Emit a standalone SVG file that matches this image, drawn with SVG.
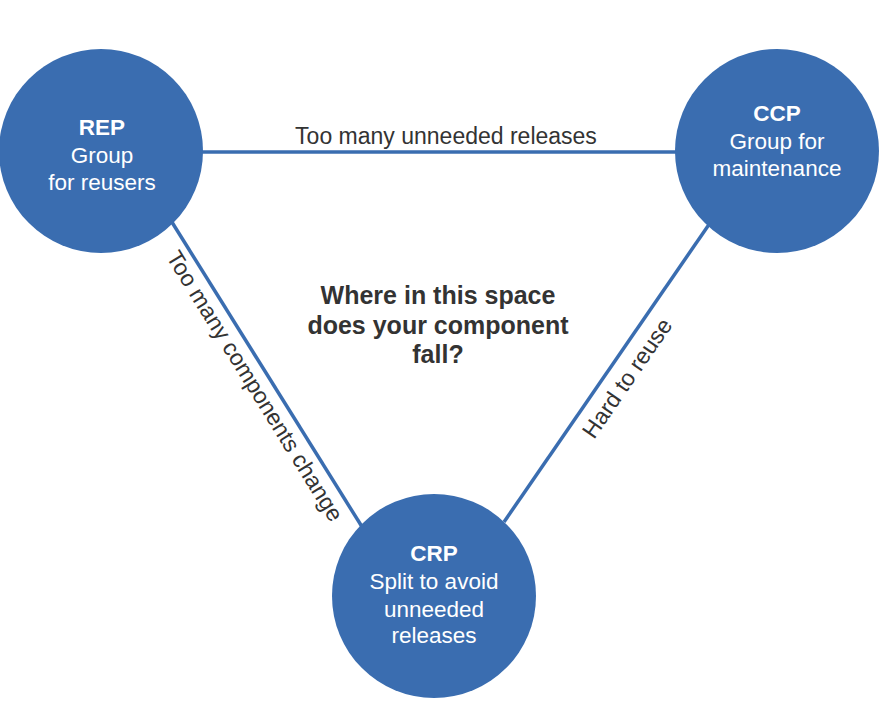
<svg xmlns="http://www.w3.org/2000/svg" width="880" height="713" viewBox="0 0 880 713">
<style>
.node{fill:#3a6db0}
.nt{fill:#ffffff;font-family:"Liberation Sans",Arial,sans-serif;font-size:22.5px;text-anchor:middle}
.b{font-weight:bold}
.conn{stroke:#3a6db0;stroke-width:3.5;fill:none}
.lbl{fill:#333333;font-family:"Liberation Sans",Arial,sans-serif;font-size:23px;text-anchor:middle}
.q{fill:#333333;font-family:"Liberation Sans",Arial,sans-serif;font-size:25px;font-weight:bold;text-anchor:middle}
</style>
<rect width="880" height="713" fill="#ffffff"/>
<g id="connectors">
<line class="conn" x1="200" y1="152" x2="678" y2="152"/>
<line class="conn" x1="170" y1="219" x2="364" y2="530"/>
<line class="conn" x1="710" y1="223" x2="504" y2="522"/>
<text class="lbl" x="446" y="144">Too many unneeded releases</text>
<text class="lbl" transform="translate(255,386) rotate(58.2)" x="0" y="8">Too many components change</text>
<text class="lbl" transform="translate(627,378) rotate(-55.4)" x="0" y="8">Hard to reuse</text>
</g>
<g id="rep">
<circle class="node" cx="101" cy="151" r="102"/>
<text class="nt b" x="102" y="135">REP</text>
<text class="nt" x="102" y="163">Group</text>
<text class="nt" x="102" y="190">for reusers</text>
</g>
<g id="ccp">
<circle class="node" cx="777" cy="151" r="102"/>
<text class="nt b" x="777" y="121">CCP</text>
<text class="nt" x="777" y="149">Group for</text>
<text class="nt" x="777" y="176">maintenance</text>
</g>
<g id="crp">
<circle class="node" cx="434" cy="596" r="102"/>
<text class="nt b" x="434" y="561">CRP</text>
<text class="nt" x="434" y="589">Split to avoid</text>
<text class="nt" x="434" y="617">unneeded</text>
<text class="nt" x="434" y="643">releases</text>
</g>
<g id="question">
<text class="q" x="438" y="304">Where in this space</text>
<text class="q" x="438" y="334">does your component</text>
<text class="q" x="438" y="363">fall?</text>
</g>
</svg>
